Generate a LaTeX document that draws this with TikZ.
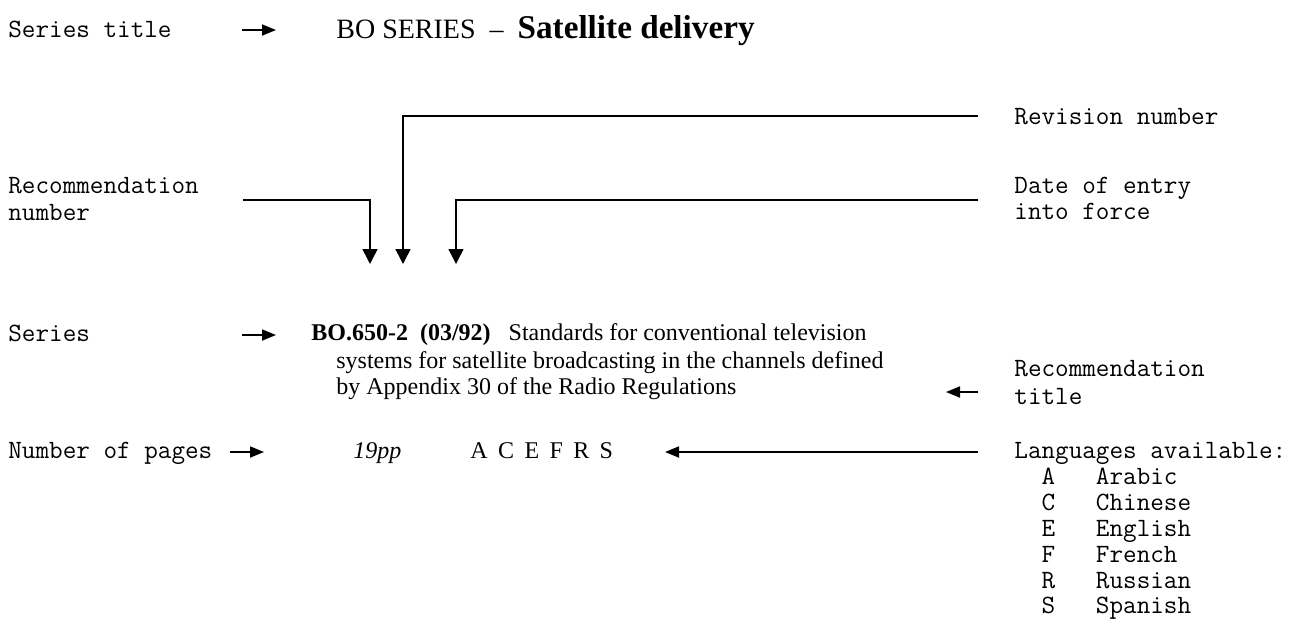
\documentclass[tikz,border=0pt]{standalone}
\usepackage{fontspec}
\setmainfont{Liberation Serif}
\usetikzlibrary{arrows.meta}
\begin{document}
\begin{tikzpicture}[x=0.5pt,y=-0.5pt,
  lbl/.style={anchor=base west, inner sep=0pt, font=\ttfamily\fontsize{13.2}{15}\selectfont},
  txt/.style={anchor=base west, inner sep=0pt, font=\fontsize{12}{14}\selectfont},
  conn/.style={line width=0.75pt, -{Triangle[length=7.5pt,width=7.5pt]}},
  sarr/.style={line width=0.9pt, -{Triangle[length=7pt,width=5.5pt]}}]
\useasboundingbox (0,0) rectangle (1306,618);

% left labels
\node[lbl] (stitle) at (8,37) {Series title};
\node[lbl] (recnum1) at (8,193) {Recommendation};
\node[lbl] (recnum2) at (8,220) {number};
\node[lbl] (series) at (8,341) {Series};
\node[lbl] (pages) at (8,458) {Number of pages};

% right labels
\node[lbl] (rev) at (1014,124) {Revision number};
\node[lbl] (date1) at (1014,193) {Date of entry};
\node[lbl] (date2) at (1014,219) {into force};
\node[lbl] (rtitle1) at (1014,376) {Recommendation};
\node[lbl] (rtitle2) at (1014,404) {title};
\node[lbl] (lang) at (1014,458) {Languages available:};
\node[lbl] (la) at (1014,484) {\phantom{xx}A\phantom{xxx}Arabic};
\node[lbl] (lc) at (1014,510) {\phantom{xx}C\phantom{xxx}Chinese};
\node[lbl] (le) at (1014,536) {\phantom{xx}E\phantom{xxx}English};
\node[lbl] (lf) at (1014,562) {\phantom{xx}F\phantom{xxx}French};
\node[lbl] (lr) at (1014,588) {\phantom{xx}R\phantom{xxx}Russian};
\node[lbl] (ls) at (1014,613) {\phantom{xx}S\phantom{xxx}Spanish};

% main texts
\node[txt] (title) at (336,38) {\fontsize{14}{16}\selectfont BO SERIES\ \ --\ \ {\fontsize{16.6}{18}\selectfont\bfseries Satellite delivery}};
\node[txt] (rec1) at (311,340) {\textbf{BO.650-2\ \ (03/92)}\ \ \ Standards for conventional television};
\node[txt] (rec2) at (336,368) {systems for satellite broadcasting in the channels defined};
\node[txt] (rec3) at (336,394) {by Appendix 30 of the Radio Regulations};
\node[txt] (pp) at (353,458) {\itshape 19pp};
\node[txt] (langs) at (470,458) {A\hspace{5.2pt}C\hspace{5.2pt}E\hspace{5.2pt}F\hspace{5.2pt}R\hspace{5.2pt}S};

% connector coordinates
\coordinate (s1a) at (242,30); \coordinate (s1b) at (276,30);
\coordinate (s2a) at (242,335); \coordinate (s2b) at (276,335);
\coordinate (s3a) at (230,452); \coordinate (s3b) at (264,452);
\coordinate (rta) at (978,392); \coordinate (rtb) at (946,392);
\coordinate (lga) at (978,452); \coordinate (lgb) at (665,452);
\coordinate (rnA) at (243,200); \coordinate (rnT) at (370,264);
\coordinate (rvA) at (978,116); \coordinate (rvT) at (403,264);
\coordinate (dtA) at (978,200); \coordinate (dtT) at (456,264);

\draw[sarr] (s1a) -- (s1b);
\draw[sarr] (s2a) -- (s2b);
\draw[sarr] (s3a) -- (s3b);
\draw[sarr] (rta) -- (rtb);
\draw[sarr] (lga) -- (lgb);
\draw[conn] (rnA) -| (rnT);
\draw[conn] (rvA) -| (rvT);
\draw[conn] (dtA) -| (dtT);
\end{tikzpicture}
\end{document}
